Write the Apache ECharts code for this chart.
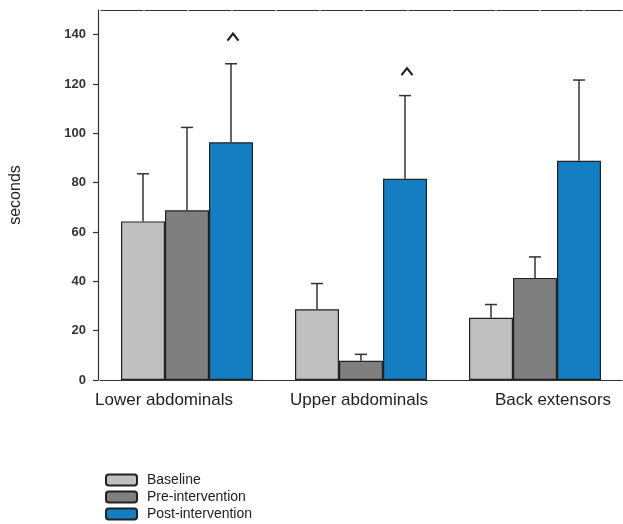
<!DOCTYPE html>
<html>
<head>
<meta charset="utf-8">
<script src="https://cdn.jsdelivr.net/npm/echarts@6/dist/echarts.min.js"></script>
<style>
html,body{margin:0;padding:0;background:#fff;}
#chart{width:623px;height:524px;}
</style>
</head>
<body>
<div id="chart"></div>
<script>
// ---- data ----
const categories = ['Lower abdominals', 'Upper abdominals', 'Back extensors'];
const seriesNames = ['Baseline', 'Pre-intervention', 'Post-intervention'];
const baseline = [64.3, 28.7, 25.2];
const baselineErr = [19.3, 10.4, 5.4];
const preIntervention = [68.8, 7.8, 41.4];
const preInterventionErr = [33.6, 2.6, 8.5];
const postIntervention = [96.4, 81.6, 88.9];
const postInterventionErr = [31.8, 33.7, 32.7];
const caretValues = [139, 125, null];   // "^" markers above post-intervention bars
const yTicks = [0, 20, 40, 60, 80, 100, 120, 140];

const colors = ['#c0c0c0', '#7f7f7f', '#137ec2'];
const labelPads = [[0, 46, 0, 0], [0, 4, 0, 0], [0, 0, 0, 36]];
const BAR_W = 44;

const chart = echarts.init(document.getElementById('chart'), null, {renderer: 'canvas'});

function barSeries(name, vals, k) {
  return {
    name: name, type: 'bar', data: vals,
    barGap: '0%', barWidth: BAR_W,
    itemStyle: {color: colors[k], borderColor: '#222', borderWidth: 1.2},
    z: 3
  };
}

function errSeries(name, vals, errs, k) {
  return {
    name: name + ' err', type: 'custom', z: 2,
    data: vals.map((v, i) => [i, v, v + errs[i]]),
    renderItem: function (params, api) {
      const base = api.coord([api.value(0), api.value(1)]);
      const top = api.coord([api.value(0), api.value(2)]);
      const x = base[0] + (k - 1) * BAR_W;
      const st = {stroke: '#333', lineWidth: 1.5};
      return {type: 'group', children: [
        {type: 'line', shape: {x1: x, y1: base[1], x2: x, y2: top[1]}, style: st},
        {type: 'line', shape: {x1: x - 6, y1: top[1], x2: x + 6, y2: top[1]}, style: st}
      ]};
    },
    tooltip: {show: false}
  };
}

const caretSeries = {
  name: 'caret', type: 'custom', z: 4,
  data: caretValues.map((v, i) => v == null ? null : [i, v]).filter(d => d),
  renderItem: function (params, api) {
    const p = api.coord([api.value(0), api.value(1)]);
    const x = p[0] + BAR_W + 2, y = p[1];
    return {type: 'polyline', shape: {points: [[x - 5.5, y + 3.5], [x, y - 3.5], [x + 5.5, y + 3.5]]},
      style: {stroke: '#222', lineWidth: 2.2, fill: null}};
  }
};

const option = {
  animation: false,
  backgroundColor: '#fff',
  textStyle: {fontFamily: 'Liberation Sans, Arial, sans-serif'},
  grid: {left: 96, right: 1, top: 10, bottom: 144, containLabel: false},
  legend: {
    data: seriesNames,
    orient: 'vertical', left: 105, bottom: 3, padding: 0,
    itemWidth: 31, itemHeight: 11, itemGap: 3,
    icon: 'roundRect',
    textStyle: {fontSize: 14, color: '#222', padding: [0, 0, 0, 5]},
    selectedMode: false
  },
  xAxis: [{
    type: 'category', data: categories.map((c, i) => ({value: c, textStyle: {padding: labelPads[i]}})),
    position: 'bottom',
    axisLine: {lineStyle: {color: '#333', width: 1.2}},
    axisTick: {show: false},
    axisLabel: {fontSize: 17, color: '#222', margin: 12, interval: 0}
  }, {
    type: 'category', data: categories, position: 'top',
    axisLine: {lineStyle: {color: '#333', width: 1.2, type: [42, 2], dashOffset: -1}},
    axisTick: {show: false}, axisLabel: {show: false}
  }],
  yAxis: {
    type: 'value', min: 0, max: 150, interval: 20, offset: 2,
    name: 'seconds', nameLocation: 'middle', nameRotate: 90, nameGap: 74,
    nameTextStyle: {fontSize: 16, color: '#222'},
    axisLine: {show: true, lineStyle: {color: '#333', width: 1.2}},
    axisTick: {show: true, length: 5, customValues: yTicks, lineStyle: {color: '#333', width: 1.2}},
    splitLine: {show: false},
    axisLabel: {fontSize: 13, color: '#333', fontWeight: 'bold', margin: 12, customValues: yTicks,
      formatter: v => yTicks.indexOf(v) >= 0 ? String(v) : ''}
  },
  series: [
    barSeries(seriesNames[0], baseline, 0),
    barSeries(seriesNames[1], preIntervention, 1),
    barSeries(seriesNames[2], postIntervention, 2),
    errSeries(seriesNames[0], baseline, baselineErr, 0),
    errSeries(seriesNames[1], preIntervention, preInterventionErr, 1),
    errSeries(seriesNames[2], postIntervention, postInterventionErr, 2),
    caretSeries
  ]
};
chart.setOption(option);
</script>
</body>
</html>
